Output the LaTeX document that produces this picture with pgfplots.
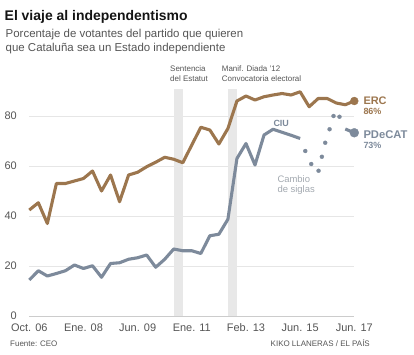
\documentclass[border=0pt]{standalone}
\usepackage{pgfplots}
\pgfplotsset{compat=1.18}
\usepackage{fontspec}
\setmainfont{Liberation Sans}
\definecolor{erc}{HTML}{9C764E}
\definecolor{ciu}{HTML}{7D8A9B}
\definecolor{band}{HTML}{E8E8E8}
\definecolor{gridc}{HTML}{E6E6E6}
\definecolor{zeroc}{HTML}{CCCCCC}
\definecolor{txt}{HTML}{555555}
\definecolor{note}{HTML}{A3A9B0}
\begin{document}
\begin{tikzpicture}
\useasboundingbox (0bp,0bp) rectangle (414bp,355bp);
\begin{axis}[
  at={(29.3bp,39bp)}, anchor=south west,
  scale only axis, width=325bp, height=230bp,
  xmin=0, xmax=36, ymin=0, ymax=92,
  clip=false,
  axis line style={draw=none},
  major tick length=0pt,
  ytick={0,20,40,60,80},
  ymajorgrids,
  grid style={draw=gridc, line width=0.8bp},
  xtick={0,6,12,18,24,30,36},
  xticklabels={Oct. 06, Ene. 08, Jun. 09, Ene. 11, Feb. 13, Jun. 15, Jun. 17},
  tick label style={font=\fontsize{11}{13}\selectfont, text=txt, inner sep=0pt},
  yticklabel style={anchor=east, xshift=-12.3bp},
  xticklabel style={anchor=base, yshift=-15.5bp},
  /pgf/number format/assume math mode=true,
]
% event bands
\addplot[fill=band, draw=none] coordinates {(16,0) (16,91) (17,91) (17,0)};
\addplot[fill=band, draw=none] coordinates {(22,0) (22,91) (23,91) (23,0)};
% zero line
\addplot[draw=zeroc, line width=0.8bp] coordinates {(0,0) (36,0)};
% CIU
\addplot[ciu, line width=3.1bp, line join=round] coordinates {
(0,14.4) (1,18.1) (2,16) (3,17) (4,18.1) (5,20.4) (6,19) (7,20.1) (8,15.5) (9,21)
(10,21.3) (11,22.7) (12,23.3) (13,24.4) (14,19.5) (15,22.7) (16,26.8) (17,26.1) (18,26.1) (19,25)
(20,32.1) (21,32.7) (22,38.7) (23,63) (24,69) (25,60.4) (26,72.4) (27,74.7) (28,73.5) (29,72.3) (30,71)
};
% cambio de siglas dots
\addplot[ciu, only marks, mark=*, mark size=2bp, mark options={line width=0.3bp}] coordinates {
(30.57,66) (31.23,60.8) (32.04,58.1) (32.41,63.7) (32.78,69.3) (33.26,74.7) (33.70,80) (34.36,79.7)
};
% PDeCAT
\addplot[ciu, line width=3.1bp] coordinates {(35,74.8) (36,73.3)};
\addplot[ciu, only marks, mark=*, mark size=4.5bp, mark options={line width=0.3bp}] coordinates {(36,73.3)};
% ERC
\addplot[erc, line width=3.1bp, line join=round] coordinates {
(0,42.4) (1,45.3) (2,37) (3,53) (4,53) (5,54) (6,55) (7,58) (8,50) (9,56.4)
(10,45.7) (11,56.4) (12,57.5) (13,59.7) (14,61.5) (15,63.5) (16,62.7) (17,61.3) (18,68.4) (19,75.5)
(20,74.4) (21,68.8) (22,75) (23,86) (24,88) (25,86.4) (26,87.7) (27,88.4) (28,89) (29,88.4)
(30,89.7) (31,83.7) (32,87) (33,87) (34,85.2) (35,84.5) (36,86)
};
\addplot[erc, only marks, mark=*, mark size=4bp, mark options={line width=0.3bp}] coordinates {(36,86)};
\end{axis}
% titles
\node[anchor=base west, inner sep=0pt, font=\fontsize{14}{16}\selectfont\bfseries, text=black!92] at (4.5bp,334.3bp) {El viaje al independentismo};
\node[anchor=base west, inner sep=0pt, font=\fontsize{11.5}{14}\selectfont, text=txt] at (5.5bp,317.7bp) {Porcentaje de votantes del partido que quieren};
\node[anchor=base west, inner sep=0pt, font=\fontsize{11.5}{14}\selectfont, text=txt] at (5.5bp,303.3bp) {que Cataluña sea un Estado independiente};
% event labels
\node[anchor=base west, inner sep=0pt, font=\fontsize{8}{9}\selectfont, text=txt] at (170bp,283bp) {Sentencia};
\node[anchor=base west, inner sep=0pt, font=\fontsize{8}{9}\selectfont, text=txt] at (170bp,273.3bp) {del Estatut};
\node[anchor=base west, inner sep=0pt, font=\fontsize{8}{9}\selectfont, text=txt] at (221.7bp,283bp) {Manif. Diada ’12};
\node[anchor=base west, inner sep=0pt, font=\fontsize{8}{9}\selectfont, text=txt] at (221.7bp,273.3bp) {Convocatoria electoral};
% series labels
\node[anchor=base west, inner sep=0pt, font=\fontsize{11}{13}\selectfont\bfseries, text=erc] at (363.3bp,250bp) {ERC};
\node[anchor=base west, inner sep=0pt, font=\fontsize{9}{11}\selectfont\bfseries, text=erc] at (363.3bp,240bp) {86\%};
\node[anchor=base west, inner sep=0pt, font=\fontsize{11.25}{13}\selectfont\bfseries, text=ciu] at (363.3bp,216.7bp) {PDeCAT};
\node[anchor=base west, inner sep=0pt, font=\fontsize{9}{11}\selectfont\bfseries, text=ciu] at (363.3bp,206.7bp) {73\%};
\node[anchor=base west, inner sep=0pt, font=\fontsize{9}{11}\selectfont\bfseries, text=ciu] at (273.3bp,228.3bp) {CIU};
\node[anchor=base west, inner sep=0pt, font=\fontsize{9.5}{11}\selectfont, text=note] at (277.3bp,172bp) {Cambio};
\node[anchor=base west, inner sep=0pt, font=\fontsize{9.5}{11}\selectfont, text=note] at (277.3bp,162bp) {de siglas};
% footer
\node[anchor=base west, inner sep=0pt, font=\fontsize{8}{9}\selectfont, text=txt] at (10bp,8.5bp) {Fuente: CEO};
\node[anchor=base east, inner sep=0pt, font=\fontsize{8}{9}\selectfont, text=txt] at (370bp,8.5bp) {KIKO LLANERAS / EL PAÍS};
\end{tikzpicture}
\end{document}
